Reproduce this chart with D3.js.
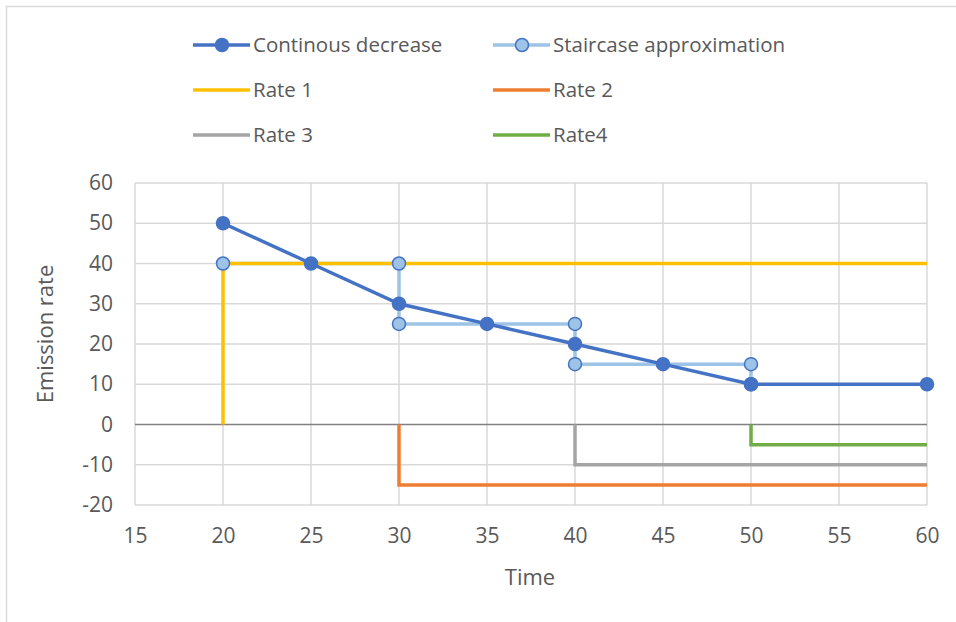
<!DOCTYPE html>
<html>
<head>
<meta charset="utf-8">
<script src="https://cdn.jsdelivr.net/npm/d3@7"></script>
<style>
  body { margin: 0; background: #fff; }
  svg text { font-family: "Open Sans", sans-serif; }
  .tick text { fill: #595959; font-size: 21px; }
</style>
</head>
<body>
<svg id="chart" width="956" height="622"></svg>
<script>
// continuous decrease
var contX = [20, 25, 30, 35, 40, 45, 50, 60]
var contY = [50, 40, 30, 25, 20, 15, 10, 10]
// staircase approximation
var stairX = [20, 30, 30, 40, 40, 50, 50]
var stairY = [40, 40, 25, 25, 15, 15, 10]
// rate steps
var rate1X = [20, 20, 60], rate1Y = [0, 40, 40]
var rate2X = [30, 30, 60], rate2Y = [0, -15, -15]
var rate3X = [40, 40, 60], rate3Y = [0, -10, -10]
var rate4X = [50, 50, 60], rate4Y = [0, -5, -5]

var xTicks = [15, 20, 25, 30, 35, 40, 45, 50, 55, 60]
var yTicks = [-20, -10, 0, 10, 20, 30, 40, 50, 60]

var zip = function(xs, ys) { return xs.map(function(x, i) { return [x, ys[i]] }) }

var series = [
    {name: "Staircase approximation", pts: zip(stairX, stairY), color: "#9DC3E6"},
    {name: "Rate 1", pts: zip(rate1X, rate1Y), color: "#FFC000"},
    {name: "Rate 2", pts: zip(rate2X, rate2Y), color: "#ED7D31"},
    {name: "Rate 3", pts: zip(rate3X, rate3Y), color: "#A5A5A5"},
    {name: "Rate4", pts: zip(rate4X, rate4Y), color: "#70AD47"},
    {name: "Continous decrease", pts: zip(contX, contY), color: "#4472C4"}
]

var svg = d3.select("#chart")
var margin = {left: 135, top: 183}
var graph = {width: 792, height: 322}

// outer frame
svg.append("path")
    .attr("d", "M6.5,622 V6.5 H956")
    .attr("fill", "none")
    .attr("stroke", "#d9d9d9")
    .attr("stroke-width", 1.5)

var xScale = d3.scaleLinear().domain([15, 60]).range([0, graph.width])
var yScale = d3.scaleLinear().domain([-20, 60]).range([graph.height, 0])

var target = svg.append("g")
    .attr("transform", "translate(" + margin.left + "," + margin.top + ")")

// gridlines
target.append("g").selectAll("line")
    .data(xTicks)
    .enter().append("line")
    .attr("x1", d => xScale(d)).attr("x2", d => xScale(d))
    .attr("y1", 0).attr("y2", graph.height)
    .attr("stroke", "#d9d9d9").attr("stroke-width", 1.5)

target.append("g").selectAll("line")
    .data(yTicks)
    .enter().append("line")
    .attr("x1", 0).attr("x2", graph.width)
    .attr("y1", d => yScale(d)).attr("y2", d => yScale(d))
    .attr("stroke", d => d == 0 ? "#808080" : "#d9d9d9")
    .attr("stroke-width", 1.5)

// axes labels (plain hyphen for negatives, like the original)
var xAxis = d3.axisBottom(xScale).tickValues(xTicks).tickSize(0).tickPadding(23)
    .tickFormat(d => String(d))
target.append("g").attr("class", "axis-x")
    .attr("transform", "translate(0," + graph.height + ")")
    .call(xAxis)
    .attr("font-family", null).attr("font-size", null)
    .call(g => g.select(".domain").remove())

var yAxis = d3.axisLeft(yScale).tickValues(yTicks).tickSize(0).tickPadding(22)
    .tickFormat(d => String(d))
target.append("g").attr("class", "axis-y")
    .call(yAxis)
    .attr("font-family", null).attr("font-size", null)
    .call(g => g.select(".domain").remove())

var line = d3.line()
    .x(d => xScale(d[0]))
    .y(d => yScale(d[1]))

target.selectAll("path.series")
    .data(series)
    .enter().append("path")
    .attr("class", "series")
    .attr("d", d => line(d.pts))
    .attr("fill", "none")
    .attr("stroke", d => d.color)
    .attr("stroke-width", 3.5)

// markers
var stairPts = zip(stairX, stairY)
target.selectAll("circle.stair")
    .data(stairPts)
    .enter().append("circle")
    .attr("class", "stair")
    .attr("cx", d => xScale(d[0])).attr("cy", d => yScale(d[1]))
    .attr("r", 6.5)
    .attr("fill", "#9DC3E6").attr("stroke", "#4472C4").attr("stroke-width", 1.5)

var contPts = zip(contX, contY)
target.selectAll("circle.cont")
    .data(contPts)
    .enter().append("circle")
    .attr("class", "cont")
    .attr("cx", d => xScale(d[0])).attr("cy", d => yScale(d[1]))
    .attr("r", 6.5)
    .attr("fill", "#4472C4").attr("stroke", "#4472C4").attr("stroke-width", 1.5)

// titles
svg.append("text")
    .attr("x", 530).attr("y", 585)
    .attr("text-anchor", "middle")
    .style("font-size", "22px").style("fill", "#595959")
    .text("Time")

svg.append("text")
    .attr("transform", "translate(53,334) rotate(-90)")
    .attr("text-anchor", "middle")
    .style("font-size", "22px").style("fill", "#595959")
    .text("Emission rate")

// legend
var legendItems = [
    {name: "Continous decrease", color: "#4472C4", fill: "#4472C4", marker: true},
    {name: "Staircase approximation", color: "#9DC3E6", fill: "#9DC3E6", marker: true},
    {name: "Rate 1", color: "#FFC000"},
    {name: "Rate 2", color: "#ED7D31"},
    {name: "Rate 3", color: "#A5A5A5"},
    {name: "Rate4", color: "#70AD47"}
]
var legend = svg.append("g")
var item = legend.selectAll("g")
    .data(legendItems)
    .enter().append("g")
    .attr("transform", (d, i) => "translate(" + (193 + (i % 2) * 300) + "," + (45 + Math.floor(i / 2) * 45) + ")")

item.append("line")
    .attr("x1", 0).attr("x2", 57)
    .attr("stroke", d => d.color).attr("stroke-width", 3.5)

item.filter(d => d.marker).append("circle")
    .attr("cx", 29).attr("r", 6.5)
    .attr("fill", d => d.fill).attr("stroke", "#4472C4").attr("stroke-width", 1.5)

item.append("text")
    .attr("x", 60).attr("y", 7)
    .style("font-size", "20.5px").style("fill", "#595959")
    .text(d => d.name)
</script>
</body>
</html>
